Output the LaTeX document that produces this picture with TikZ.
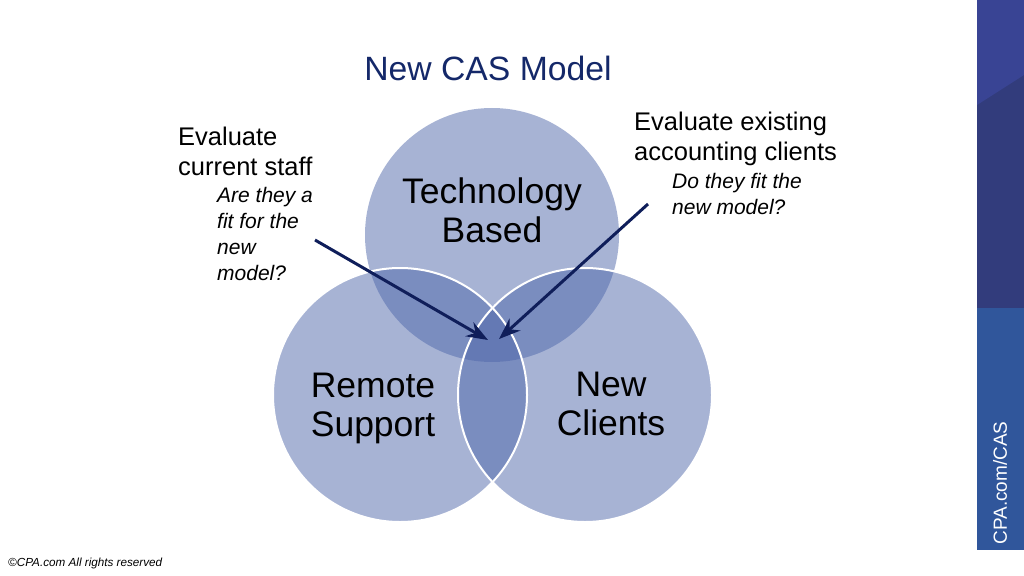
\documentclass[tikz,border=0pt]{standalone}
\usepackage{fontspec}
\setmainfont{Liberation Sans}
\usetikzlibrary{arrows.meta}
\tikzset{>={Stealth[scale=1.3]}}
\definecolor{titleblue}{RGB}{20,40,105}
\definecolor{circblue}{RGB}{79,103,170}
\definecolor{arrowblue}{RGB}{15,30,90}
\definecolor{bardark}{RGB}{50,60,124}
\definecolor{barlight}{RGB}{57,68,148}
\definecolor{barlow}{RGB}{48,86,155}
\tikzset{
  circ/.style={circblue, fill opacity=0.5},
  ring/.style={draw=white, line width=2pt},
  pointer/.style={->, arrowblue, line width=3pt},
  label/.style={font=\fontsize{35.5}{39}\selectfont, align=center},
  note/.style={anchor=north west, inner sep=0pt, align=left, font=\fontsize{25.5}{30}\selectfont},
  subnote/.style={anchor=north west, inner sep=0pt, align=left, font=\fontsize{21}{26}\selectfont\itshape}
}

\begin{document}
\begin{tikzpicture}[x=1pt,y=-1pt]
  \useasboundingbox (0,0) rectangle (1024,575);

  % circle centres
  \coordinate (T) at (492,235);
  \coordinate (R) at (400,395);
  \coordinate (N) at (585,395);
  % arrow ends
  \coordinate (P) at (315,240);
  \coordinate (P1) at (488,340);
  \coordinate (Q) at (648,204);
  \coordinate (Q1) at (499,339);

  % side bar
  \fill[bardark] (977,0) rectangle (1024,308);
  \fill[barlight] (977,0) -- (1024,0) -- (1024,75) -- (977,105) -- cycle;
  \fill[barlow] (977,308) rectangle (1024,550);
  \node[rotate=90, text=white, font=\fontsize{19}{22}\selectfont] (site) at (1000,483) {CPA.com/CAS};

  % circles
  \fill[circ] (T) circle (127pt);
  \fill[circ] (R) circle (127pt);
  \fill[circ] (N) circle (127pt);
  \draw[ring] (R) circle (127pt);
  \draw[ring] (N) circle (127pt);

  % arrows
  \draw[pointer] (P) -- (P1);
  \draw[pointer] (Q) -- (Q1);

  % labels
  \node[text=titleblue, font=\fontsize{33.7}{38}\selectfont] (title) at (488,68) {New CAS Model};
  \node[label] (tech) at (492,210) {Technology\\Based};
  \node[label] (remote) at (373,408) {Remote\\Support};
  \node[label] (clients) at (611,404) {New\\Clients};

  \node[note] (staff) at (178,127) {Evaluate\\current staff};
  \node[subnote] (staffq) at (217,187) {Are they a\\fit for the\\new\\model?};
  \node[note] (exist) at (634,112) {Evaluate existing\\accounting clients};
  \node[subnote] (existq) at (672,173) {Do they fit the\\new model?};

  \node[anchor=west, inner sep=0pt, font=\fontsize{11.7}{14}\selectfont\itshape] (copy) at (8,563) {©CPA.com All rights reserved};
\end{tikzpicture}
\end{document}
